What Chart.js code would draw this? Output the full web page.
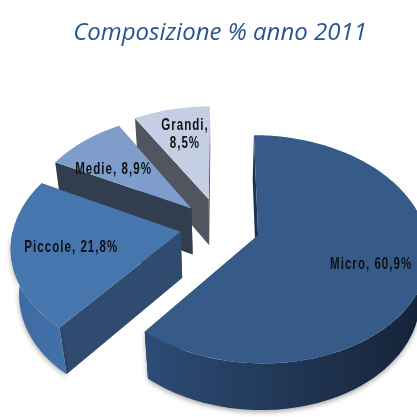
<!DOCTYPE html>
<html>
<head>
<meta charset="utf-8">
<script src="https://cdn.jsdelivr.net/npm/chart.js@4"></script>
<style>
  body { margin: 0; background: #fff; }
</style>
</head>
<body>
<canvas id="chart" width="417" height="417"></canvas>
<script>
const categories = ['Micro', 'Piccole', 'Medie', 'Grandi'];
const shares = [60.9, 21.8, 8.9, 8.5];
const chartTitle = 'Composizione % anno 2011';

// top face / cut faces / outer wall gradient (left -> right)
const topColors = ['#375b89', '#4676ad', '#7f9dcb', '#c4cfe4'];
const sideColors = ['#1f3150', '#2f4b70', '#323d50', '#50555f'];
const wallColors = [['#2d4c76', '#152236'], ['#3f6aa2', '#4270a8'], ['#323d50', '#323d50'], ['#50555f', '#50555f']];

function fmt(v) {
    return v.toFixed(1).replace('.', ',') + '%';
}

// draws the pie in perspective, slices pulled out, using the arcs computed by Chart.js
const pie3d = {
    id: 'pie3d',
    beforeDatasetsDraw(chart, args, opts) {
        const ctx = chart.ctx;
        const arcs = chart.getDatasetMeta(0).data;
        const sinE = Math.sin(opts.elevation), cosE = Math.cos(opts.elevation);
        const D = opts.distance;
        const h = opts.depth;
        const ox = arcs[0].x, oy = arcs[0].y;
        const camV = D * cosE;

        // plane coords (u right, v towards viewer, z down) -> screen
        const proj = (u, v, z) => {
            const k = D / (D - v * cosE + z * sinE);
            return [ox + u * k, oy + (v * sinE + z * cosE) * k];
        };

        const slices = arcs.map((a, i) => {
            const mid = (a.startAngle + a.endAngle) / 2;
            const ex = opts.explode[i];
            return {
                i, mid,
                s0: a.startAngle, s1: a.endAngle,
                u0: Math.cos(mid) * ex,
                v0: Math.sin(mid) * ex,
                r: a.outerRadius
            };
        });

        const rim = (s, ang, z, rr) => {
            const r = rr === undefined ? s.r : rr;
            return proj(s.u0 + r * Math.cos(ang), s.v0 + r * Math.sin(ang), z);
        };
        const arcPoints = (s, from, to, z) => {
            const n = Math.max(2, Math.ceil(Math.abs(to - from) / 0.02));
            const pts = [];
            for (let k = 0; k <= n; k++) pts.push(rim(s, from + (to - from) * k / n, z));
            return pts;
        };
        const fillPoly = (pts, style) => {
            ctx.beginPath();
            pts.forEach((p, k) => k ? ctx.lineTo(p[0], p[1]) : ctx.moveTo(p[0], p[1]));
            ctx.closePath();
            ctx.fillStyle = style;
            ctx.fill();
        };

        // back slices first
        slices.slice().sort((p, q) => p.v0 - q.v0).forEach(s => {
            const i = s.i;
            const face = ang => fillPoly([
                proj(s.u0, s.v0, 0), rim(s, ang, 0), rim(s, ang, h), proj(s.u0, s.v0, h)
            ], sideColors[i]);
            // a cut face is seen when its outward normal points at the camera
            const seen = (nu, nv) => nu * (-s.u0) + nv * (camV - s.v0) > 0;
            const startSeen = seen(Math.cos(s.s0 - Math.PI / 2), Math.sin(s.s0 - Math.PI / 2));
            const endSeen = seen(Math.cos(s.s1 + Math.PI / 2), Math.sin(s.s1 + Math.PI / 2));
            if (!startSeen) face(s.s0);
            if (!endSeen) face(s.s1);
            if (startSeen) face(s.s0);
            if (endSeen) face(s.s1);

            // outer wall, front half only
            const lo = Math.max(s.s0, 0), hi = Math.min(s.s1, Math.PI);
            if (hi > lo) {
                const top = arcPoints(s, lo, hi, 0);
                const bottom = arcPoints(s, hi, lo, h);
                const g = ctx.createLinearGradient(top[top.length - 1][0], 0, top[0][0], 0);
                g.addColorStop(0, wallColors[i][0]);
                g.addColorStop(1, wallColors[i][1]);
                ctx.save();
                ctx.shadowColor = 'rgba(0,0,0,0.35)';
                ctx.shadowBlur = 5;
                ctx.shadowOffsetY = 2;
                fillPoly(top.concat(bottom), g);
                ctx.restore();
            }

            fillPoly([proj(s.u0, s.v0, 0)].concat(arcPoints(s, s.s0, s.s1, 0)), topColors[i]);
        });

        // slice labels, condensed bold
        ctx.save();
        ctx.fillStyle = '#111';
        ctx.font = 'bold 17px "Liberation Sans", Arial, sans-serif';
        ctx.letterSpacing = '1.5px';
        ctx.textAlign = 'center';
        ctx.textBaseline = 'middle';
        const say = (txt, x, y) => {
            ctx.save();
            ctx.translate(x, y);
            ctx.scale(0.68, 1);
            ctx.fillText(txt, 0, 0);
            ctx.restore();
        };
        slices.forEach(s => {
            const ang = s.mid + opts.labelTurn[s.i];
            const [lx, ly] = rim(s, ang, 0, s.r * opts.labelRadius[s.i]);
            const text = categories[s.i] + ', ' + fmt(shares[s.i]);
            if (opts.wrap[s.i]) {
                const parts = text.split(' ');
                say(parts[0], lx, ly - 9);
                say(parts[1], lx, ly + 9);
            } else {
                say(text, lx, ly);
            }
        });
        ctx.restore();
        return false;
    }
};

const ctx = document.getElementById('chart').getContext('2d');
new Chart(ctx, {
    type: 'pie',
    data: {
        labels: categories,
        datasets: [{
            data: shares,
            backgroundColor: topColors,
            borderWidth: 0,
            radius: 167
        }]
    },
    options: {
        responsive: false,
        animation: false,
        layout: {
            padding: { left: 23, bottom: 22 }
        },
        plugins: {
            legend: { display: false },
            tooltip: { enabled: false },
            title: {
                display: true,
                text: chartTitle,
                color: '#2a5490',
                font: { family: '"Open Sans", sans-serif', size: 24, style: 'italic', weight: 'normal' },
                padding: { top: 19, bottom: 10 }
            },
            pie3d: {
                elevation: Math.asin(0.66),
                distance: 1034,
                depth: 64,
                explode: [40, 40, 40, 44],
                labelRadius: [0.69, 0.65, 0.64, 0.7],
                labelTurn: [0.03, 0, -0.1, 0.03],
                wrap: [false, false, false, true]
            }
        }
    },
    plugins: [pie3d]
});
</script>
</body>
</html>
